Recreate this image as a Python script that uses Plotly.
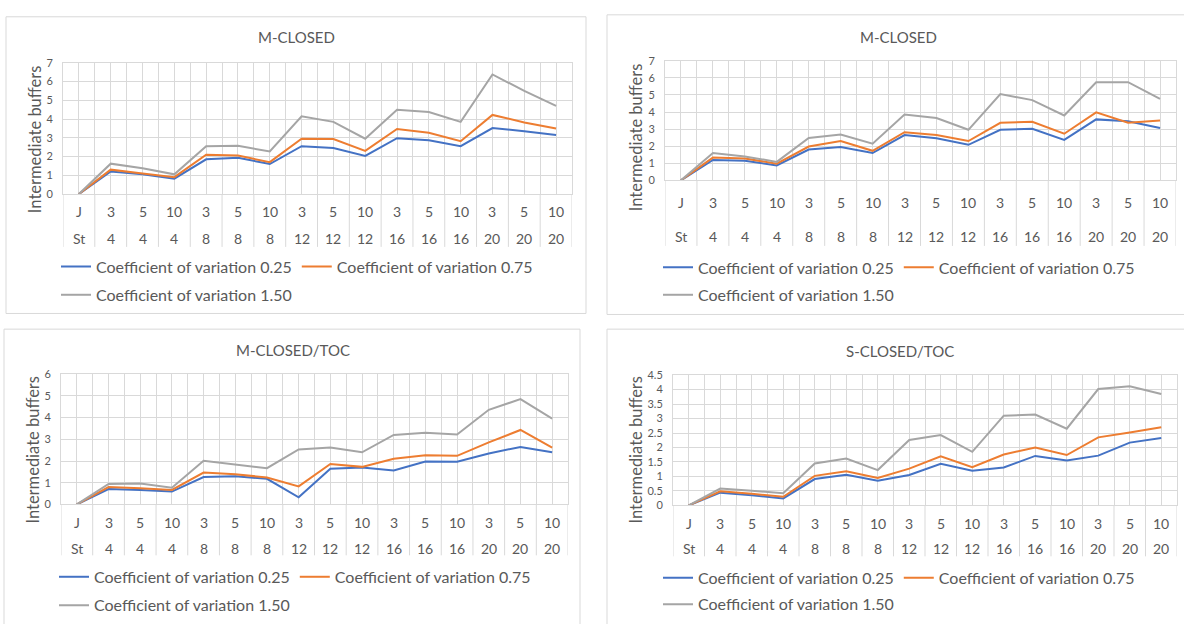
import plotly.graph_objects as go

# ---------------- data ----------------
cat_J = ["J", "3", "5", "10", "3", "5", "10", "3", "5", "10", "3", "5", "10", "3", "5", "10"]
cat_St = ["St", "4", "4", "4", "8", "8", "8", "12", "12", "12", "16", "16", "16", "20", "20", "20"]
series_names = ["Coefficient of variation 0.25", "Coefficient of variation 0.75", "Coefficient of variation 1.50"]

mclosed_a_025 = [0, 1.20, 1.05, 0.82, 1.85, 1.93, 1.60, 2.55, 2.45, 2.03, 2.98, 2.87, 2.55, 3.52, 3.35, 3.15]
mclosed_a_075 = [0, 1.30, 1.10, 0.90, 2.10, 2.05, 1.70, 2.95, 2.93, 2.30, 3.47, 3.27, 2.82, 4.22, 3.82, 3.50]
mclosed_a_150 = [0, 1.62, 1.37, 1.05, 2.55, 2.57, 2.27, 4.15, 3.85, 2.95, 4.50, 4.38, 3.85, 6.38, 5.50, 4.70]

mclosed_b_025 = [0, 1.19, 1.15, 0.87, 1.80, 1.95, 1.60, 2.65, 2.47, 2.08, 2.96, 3.02, 2.37, 3.57, 3.46, 3.07]
mclosed_b_075 = [0, 1.33, 1.28, 0.97, 1.98, 2.30, 1.73, 2.82, 2.65, 2.30, 3.37, 3.43, 2.73, 3.98, 3.38, 3.50]
mclosed_b_150 = [0, 1.60, 1.40, 1.08, 2.48, 2.68, 2.15, 3.85, 3.65, 2.96, 5.05, 4.70, 3.80, 5.75, 5.75, 4.77]

mclosed_toc_025 = [0, 0.71, 0.67, 0.59, 1.26, 1.30, 1.18, 0.33, 1.64, 1.70, 1.56, 1.98, 1.97, 2.35, 2.65, 2.40]
mclosed_toc_075 = [0, 0.80, 0.74, 0.67, 1.47, 1.39, 1.24, 0.83, 1.86, 1.73, 2.10, 2.26, 2.24, 2.86, 3.43, 2.62]
mclosed_toc_150 = [0, 0.94, 0.96, 0.77, 2.01, 1.85, 1.67, 2.53, 2.62, 2.40, 3.20, 3.30, 3.22, 4.36, 4.85, 3.95]

sclosed_toc_025 = [0, 0.44, 0.35, 0.24, 0.91, 1.06, 0.85, 1.05, 1.44, 1.20, 1.31, 1.71, 1.55, 1.72, 2.17, 2.33]
sclosed_toc_075 = [0, 0.49, 0.40, 0.30, 1.02, 1.18, 0.95, 1.27, 1.70, 1.32, 1.76, 2.00, 1.74, 2.35, 2.52, 2.70]
sclosed_toc_150 = [0, 0.58, 0.51, 0.42, 1.45, 1.62, 1.22, 2.26, 2.43, 1.85, 3.10, 3.14, 2.65, 4.02, 4.12, 3.85]

titles = ["M-CLOSED", "M-CLOSED", "M-CLOSED/TOC", "S-CLOSED/TOC"]
y_title = "Intermediate buffers"

# ---------------- layout / style ----------------
W, H = 1184, 624
FONT = "Lato"
TXT = "#595959"
GRID = "#D9D9D9"
colors = ["#4472C4", "#ED7D31", "#A5A5A5"]

def px(x):
    return x / W

def py(y):
    return 1 - y / H

panels = [
    dict(data=(mclosed_a_025, mclosed_a_075, mclosed_a_150), ymax=7, dtick=1,
         plot=(63, 572, 57, 191), rows=(209, 236), div_bottom=245,
         legend=(56, 265, 294), title=(296, 31), ytitle=(35, 135), border=(6, 10, 586, 313)),
    dict(data=(mclosed_b_025, mclosed_b_075, mclosed_b_150), ymax=7, dtick=1,
         plot=(665, 1176, 55, 177), rows=(200, 234), div_bottom=244,
         legend=(658, 266, 294), title=(898, 31), ytitle=(636, 133), border=(607, 8, 1200, 314)),
    dict(data=(mclosed_toc_025, mclosed_toc_075, mclosed_toc_150), ymax=6, dtick=1,
         plot=(61, 568, 375, 508), rows=(526, 553), div_bottom=560,
         legend=(54, 582, 611), title=(293, 350), ytitle=(33, 452), border=(4, 329, 580, 640)),
    dict(data=(sclosed_toc_025, sclosed_toc_075, sclosed_toc_150), ymax=4.5, dtick=0.5,
         plot=(673, 1177, 376, 509), rows=(527, 553), div_bottom=561,
         legend=(658, 583, 610), title=(900, 351), ytitle=(636, 452), border=(607, 329, 1200, 640)),
]

fig = go.Figure()
shapes = []
annotations = []
layout_upd = {}
x_idx = list(range(len(cat_J)))

for p, cfg in enumerate(panels):
    n = p + 1
    xa = "x" if n == 1 else f"x{n}"
    ya = "y" if n == 1 else f"y{n}"
    xkey = "xaxis" if n == 1 else f"xaxis{n}"
    ykey = "yaxis" if n == 1 else f"yaxis{n}"
    leg_a = "legend" if n == 1 else f"legend{2 * n - 1}"
    leg_b = f"legend{2 * n}"
    x0, x1, ytop, ybot = cfg["plot"]

    for s, (vals, name, col) in enumerate(zip(cfg["data"], series_names, colors)):
        fig.add_trace(go.Scatter(
            x=x_idx, y=vals, mode="lines", name=name,
            line=dict(color=col, width=2),
            xaxis=xa, yaxis=ya,
            legend=leg_a if s < 2 else leg_b,
            showlegend=True, hoverinfo="skip",
        ))

    layout_upd[xkey] = dict(
        domain=[px(x0), px(x1)], anchor=ya, range=[-0.5, len(cat_J) - 0.5],
        tick0=-0.5, dtick=0.5, showgrid=True, gridcolor=GRID, gridwidth=1,
        showticklabels=False, zeroline=False, showline=True, mirror=True,
        linecolor=GRID, linewidth=1, ticks="", fixedrange=True,
    )
    layout_upd[ykey] = dict(
        domain=[py(ybot), py(ytop)], anchor=xa, range=[0, cfg["ymax"]],
        dtick=cfg["dtick"], tick0=0, showgrid=True, gridcolor=GRID, gridwidth=1,
        zeroline=False, showline=True, mirror=True, linecolor=GRID, linewidth=1,
        ticks="outside", ticklen=7, tickcolor="rgba(0,0,0,0)",
        tickfont=dict(family=FONT, size=11, color=TXT), fixedrange=True,
    )

    lx, ly1, ly2 = cfg["legend"]
    for key, yy in ((leg_a, ly1), (leg_b, ly2)):
        layout_upd[key] = dict(
            orientation="h", x=px(lx), xanchor="left", y=py(yy), yanchor="middle",
            bgcolor="rgba(0,0,0,0)", borderwidth=0,
            font=dict(family=FONT, size=16, color=TXT),
            itemwidth=30, tracegroupgap=0,
        )

    # category labels (two rows)
    r1, r2 = cfg["rows"]
    for i, (j, st) in enumerate(zip(cat_J, cat_St)):
        for txt, yy in ((j, r1), (st, r2)):
            annotations.append(dict(
                x=i, xref=xa, y=py(yy), yref="paper", text=txt, showarrow=False,
                xanchor="center", yanchor="middle",
                font=dict(family=FONT, size=14, color=TXT),
            ))
    # category dividers in the label area
    depth = (cfg["div_bottom"] - ybot) / (ybot - ytop)
    for i in range(len(cat_J) + 1):
        shapes.append(dict(
            type="line", xref=xa, yref=f"{ya} domain", x0=i - 0.5, x1=i - 0.5,
            y0=0, y1=-depth, line=dict(color=GRID, width=1),
        ))

    # panel title
    tx, ty = cfg["title"]
    annotations.append(dict(
        x=px(tx), y=py(ty), xref="paper", yref="paper", text=titles[p],
        showarrow=False, xanchor="center", yanchor="middle",
        font=dict(family=FONT, size=15, color=TXT),
    ))
    # y axis title
    ax, ay = cfg["ytitle"]
    annotations.append(dict(
        x=px(ax), y=py(ay), xref="paper", yref="paper", text=y_title,
        showarrow=False, textangle=-90, xanchor="center", yanchor="middle",
        font=dict(family=FONT, size=16.5, color=TXT),
    ))
    # panel border
    bx0, by0, bx1, by1 = cfg["border"]
    shapes.append(dict(
        type="rect", xref="paper", yref="paper",
        x0=px(bx0), x1=px(bx1), y0=py(by1), y1=py(by0),
        line=dict(color=GRID, width=1), fillcolor="rgba(0,0,0,0)", layer="below",
    ))

fig.update_layout(
    width=W, height=H, margin=dict(l=0, r=0, t=0, b=0),
    paper_bgcolor="white", plot_bgcolor="white",
    font=dict(family=FONT, color=TXT),
    shapes=shapes, annotations=annotations, **layout_upd,
)

fig.write_html(
    "out.html",
    config={"displayModeBar": False},
    post_script="document.body.style.margin='0';document.body.style.overflow='hidden';",
)
